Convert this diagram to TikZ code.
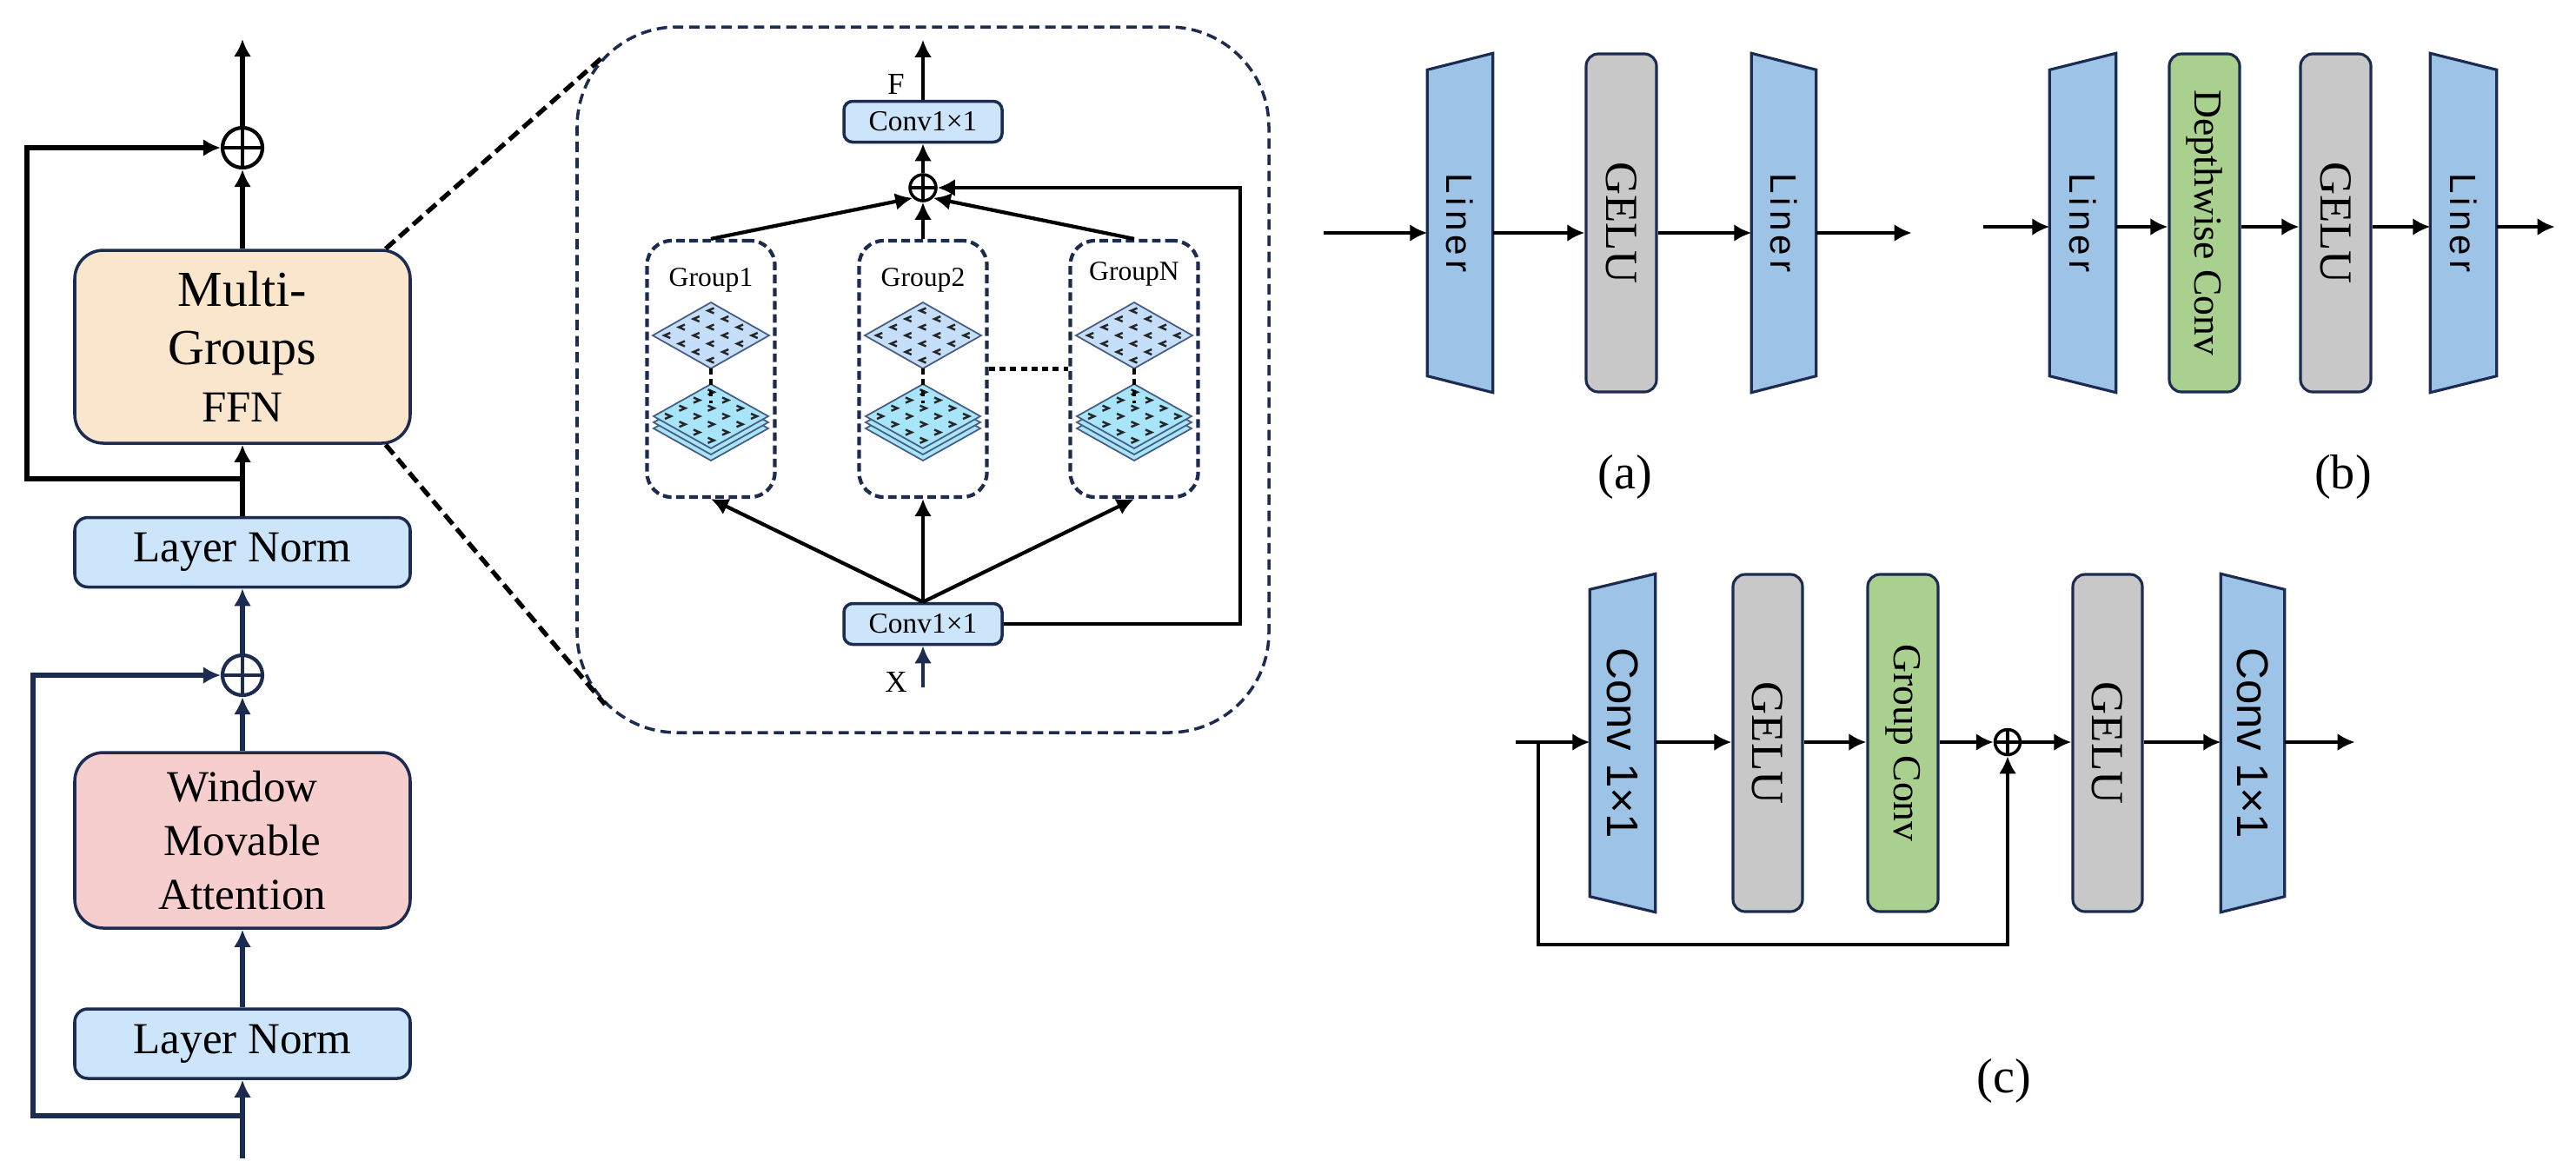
\documentclass[tikz,border=0pt]{standalone}
\usepackage{fontspec}
\usepackage{graphicx}
\setmainfont{Liberation Serif}
\newfontfamily\linerfont[LetterSpace=12]{Liberation Sans}
\newfontfamily\convfont{Liberation Sans}
\usetikzlibrary{arrows.meta,backgrounds,positioning}

\definecolor{navy}{RGB}{28,43,80}
\definecolor{lnblue}{RGB}{204,229,251}
\definecolor{peach}{RGB}{250,230,205}
\definecolor{rose}{RGB}{246,206,205}
\definecolor{linerblue}{RGB}{157,195,230}
\definecolor{gelugray}{RGB}{200,200,200}
\definecolor{convgreen}{RGB}{169,208,142}
\definecolor{maptop}{RGB}{197,222,249}
\definecolor{mapbot}{RGB}{168,228,250}
\definecolor{mapedge}{RGB}{70,92,130}

\begin{document}
\begin{tikzpicture}[>={Latex[length=2mm,width=2mm]},
	flow/.style={->,line width=1.5pt},
	iflow/.style={->,line width=1.2pt},
	pflow/.style={->,line width=1.3pt},
	zoomline/.style={line width=1.5pt,dash pattern=on 4pt off 2pt},
	block/.style={draw=navy,line width=1pt,align=center,inner sep=0pt,minimum width=3.86cm},
	lnbox/.style={block,fill=lnblue,minimum height=0.80cm,rounded corners=0.15cm,font=\fontsize{14.5}{17}\selectfont},
	cbox/.style={draw=navy,line width=1pt,fill=lnblue,rounded corners=0.1cm,minimum width=1.82cm,minimum height=0.47cm,inner sep=0pt,font=\fontsize{9.5}{11}\selectfont},
	grp/.style={draw=navy,line width=1.2pt,dash pattern=on 2.8pt off 1.5pt,rounded corners=0.28cm,minimum width=1.47cm,minimum height=2.95cm},
	gtext/.style={inner sep=0pt,font=\fontsize{9}{10}\selectfont},
	addop/.style={circle,draw=#1,line width=1.2pt,minimum size=0.46cm,inner sep=0pt,
		path picture={\draw[#1,line width=1.2pt] (path picture bounding box.north) -- (path picture bounding box.south)
			(path picture bounding box.west) -- (path picture bounding box.east);}},
	addop/.default=black,
	linerbox/.style={inner sep=0pt,minimum height=3.89cm,font=\linerfont\fontsize{12}{14}\selectfont},
	trap/.style={draw=navy,line width=0.9pt,fill=linerblue},
	gelubox/.style={draw=navy,line width=0.9pt,fill=gelugray,rounded corners=0.14cm,minimum width=0.81cm,minimum height=3.89cm,inner sep=0pt,font=\fontsize{15}{17}\selectfont},
	convbox/.style={gelubox,fill=convgreen,font=\fontsize{13}{15}\selectfont},
	capt/.style={font=\fontsize{16}{18}\selectfont},
	chev/.style={line width=0.7pt,black!85},
	fmap/.pic={
		\foreach \dd in {-0.14,-0.07,0}
			\draw[mapedge,fill=mapbot,line width=0.5pt] (0,{-0.175+\dd}) -- (0.66,{-0.545+\dd}) -- (0,{-0.915+\dd}) -- (-0.66,{-0.545+\dd}) -- cycle;
		\foreach \ia in {-0.75,-0.25,0.25,0.75}
			\foreach \ib in {-0.75,-0.25,0.25,0.75}
				\draw[chev] ({0.33*(\ia+\ib)},{-0.545+0.185*(\ia-\ib)}) ++(-0.035,0.03) -- ++(0.07,-0.03) -- ++(-0.07,-0.03);
		\draw[mapedge,fill=maptop,line width=0.5pt] (0,0.765) -- (0.67,0.385) -- (0,0.005) -- (-0.67,0.385) -- cycle;
		\foreach \ia in {-0.75,-0.25,0.25,0.75}
			\foreach \ib in {-0.75,-0.25,0.25,0.75}
				\draw[chev] ({0.335*(\ia+\ib)},{0.385+0.19*(\ia-\ib)}) ++(0.035,0.03) -- ++(-0.07,-0.03) -- ++(0.07,-0.03);
		\draw[line width=1.3pt,dash pattern=on 2pt off 1.5pt] (0,0.005) -- (0,-0.39);
	}]
	
	\useasboundingbox (0,0) rectangle (29.64,-13.5);
	
	% block column
	\node[lnbox] (ln2) at (2.79,-12.01) {Layer Norm};
	\node[block,fill=rose,minimum height=2.02cm,rounded corners=0.33cm,font=\fontsize{14.5}{17.6}\selectfont] (wma) at (2.79,-9.67) {Window\\Movable\\Attention};
	\node[addop=navy] (add2) at (2.79,-7.77) {};
	\node[lnbox] (ln1) at (2.79,-6.355) {Layer Norm};
	\node[block,fill=peach,minimum height=2.22cm,rounded corners=0.33cm,font=\fontsize{16.5}{19}\selectfont] (ffn) at (2.79,-3.99) {Multi-\\Groups\\{\fontsize{14.5}{19}\selectfont FFN}};
	\node[addop] (add1) at (2.79,-1.70) {};
	\coordinate (xin) at (2.79,-13.33);
	\coordinate (br2) at (2.79,-12.84);
	\coordinate (br1) at (2.79,-5.51);
	\coordinate (yout) at (2.79,-0.45);
	
	\draw[flow,navy] (xin) -- (ln2);
	\draw[flow,navy] (ln2) -- (wma);
	\draw[flow,navy] (wma) -- (add2);
	\draw[flow,navy] (add2) -- (ln1);
	\draw[flow,navy] (br2) -- ++(-2.41,0) |- (add2);
	\draw[flow] (ln1) -- (ffn);
	\draw[flow] (ffn) -- (add1);
	\draw[flow] (add1) -- (yout);
	\draw[flow] (br1) -- ++(-2.48,0) |- (add1);
	
	% zoomed view of the FFN
	\node[draw=navy,line width=1pt,dash pattern=on 3.4pt off 1.9pt,rounded corners=1.15cm,minimum width=7.96cm,minimum height=8.12cm] (inset) at (10.62,-4.37) {};
	\draw[zoomline] ([xshift=-0.3cm]ffn.north east) -- ([shift={(0.34,-0.34)}]inset.north west);
	\draw[zoomline] ([xshift=-0.3cm]ffn.south east) -- ([shift={(0.34,0.34)}]inset.south west);
	
	\node[cbox] (ctop) at (10.62,-1.40) {Conv1×1};
	\node[addop,minimum size=0.30cm,line width=1pt] (add3) at (10.62,-2.16) {};
	\node[cbox] (cbot) at (10.62,-7.18) {Conv1×1};
	\node[grp] (g1) at (8.18,-4.245) {};
	\node[grp] (g2) at (10.62,-4.245) {};
	\node[grp] (gN) at (13.05,-4.245) {};
	\node[gtext] (t1) at (8.18,-3.22) {Group1};
	\node[gtext] (t2) at (10.62,-3.22) {Group2};
	\node[gtext] (tN) at (13.05,-3.15) {GroupN};
	\pic at (g1) {fmap};
	\pic at (g2) {fmap};
	\pic at (gN) {fmap};
	\draw[line width=1.3pt,dash pattern=on 2pt off 1.5pt] (g2.east) -- (gN.west);
	\coordinate (xsrc) at (10.62,-7.91);
	\node[font=\fontsize{10}{12}\selectfont] (lx) at (10.31,-7.85) {X};
	\node[font=\fontsize{10}{12}\selectfont] (lf) at (10.31,-0.97) {F};
	
	\draw[iflow,navy] (xsrc) -- (cbot);
	\draw[iflow] (cbot.north) -- (g1.south);
	\draw[iflow] (cbot.north) -- (g2.south);
	\draw[iflow] (cbot.north) -- (gN.south);
	\draw[iflow] (g1.north) -- (add3.south west);
	\draw[iflow] (g2.north) -- (add3.south);
	\draw[iflow] (gN.north) -- (add3.south east);
	\draw[iflow] (cbot.east) -- ++(2.72,0) |- (add3);
	\draw[iflow] (add3) -- (ctop);
	\draw[iflow] (ctop.north) -- ++(0,0.69);
	
	% (a)
	\node[linerbox,minimum width=0.74cm] (la1) at (16.80,-2.565) {\rotatebox{-90}{Liner}};
	\node[gelubox] (ga) at (18.655,-2.565) {\rotatebox{-90}{GELU}};
	\node[linerbox,minimum width=0.73cm] (la2) at (20.525,-2.565) {\rotatebox{-90}{Liner}};
	\coordinate (ain) at (15.23,-2.68);
	\draw[pflow] (ain) -- (ain -| la1.west);
	\draw[pflow] (ain -| la1.east) -- (ain -| ga.west);
	\draw[pflow] (ain -| ga.east) -- (ain -| la2.west);
	\draw[pflow] (ain -| la2.east) -- ++(1.10,0);
	\node[capt] (capa) at (18.70,-5.49) {(a)};
	
	% (b)
	\node[linerbox,minimum width=0.75cm] (lb1) at (23.965,-2.565) {\rotatebox{-90}{Liner}};
	\node[convbox] (dw) at (25.365,-2.565) {\rotatebox{-90}{Depthwise Conv}};
	\node[gelubox] (gb) at (26.875,-2.565) {\rotatebox{-90}{GELU}};
	\node[linerbox,minimum width=0.75cm] (lb2) at (28.345,-2.565) {\rotatebox{-90}{Liner}};
	\coordinate (bin) at (22.82,-2.61);
	\draw[pflow] (bin) -- (bin -| lb1.west);
	\draw[pflow] (bin -| lb1.east) -- (bin -| dw.west);
	\draw[pflow] (bin -| dw.east) -- (bin -| gb.west);
	\draw[pflow] (bin -| gb.east) -- (bin -| lb2.west);
	\draw[pflow] (bin -| lb2.east) -- ++(0.67,0);
	\node[capt] (capb) at (26.96,-5.49) {(b)};
	
	% (c)
	\node[linerbox,minimum width=0.74cm,minimum height=3.88cm,font=\convfont\fontsize{14.5}{17}\selectfont] (cc1) at (18.67,-8.55) {\rotatebox{-90}{Conv 1×1}};
	\node[gelubox,minimum width=0.80cm,minimum height=3.88cm] (gc1) at (20.34,-8.55) {\rotatebox{-90}{GELU}};
	\node[convbox,minimum height=3.88cm] (gconv) at (21.895,-8.55) {\rotatebox{-90}{Group Conv}};
	\node[addop,minimum size=0.29cm,line width=1pt] (add4) at (23.10,-8.54) {};
	\node[gelubox,minimum width=0.80cm,minimum height=3.88cm] (gc2) at (24.25,-8.55) {\rotatebox{-90}{GELU}};
	\node[linerbox,minimum width=0.72cm,minimum height=3.88cm,font=\convfont\fontsize{14.5}{17}\selectfont] (cc2) at (25.92,-8.55) {\rotatebox{-90}{Conv 1×1}};
	\coordinate (cin) at (17.44,-8.54);
	\draw[pflow] (cin) -- (cin -| cc1.west);
	\draw[pflow] (cin -| cc1.east) -- (cin -| gc1.west);
	\draw[pflow] (cin -| gc1.east) -- (cin -| gconv.west);
	\draw[pflow] (cin -| gconv.east) -- (add4);
	\draw[pflow] (add4) -- (cin -| gc2.west);
	\draw[pflow] (cin -| gc2.east) -- (cin -| cc2.west);
	\draw[pflow] (cin -| cc2.east) -- ++(0.81,0);
	\draw[pflow] ([xshift=0.26cm]cin) -- ++(0,-2.33) -| (add4);
	\node[capt] (capc) at (23.06,-12.44) {(c)};
	
	\begin{scope}[on background layer]
	\draw[trap] ([yshift=-0.19cm]la1.north west) -- (la1.north east) -- (la1.south east) -- ([yshift=0.19cm]la1.south west) -- cycle;
	\draw[trap] (la2.north west) -- ([yshift=-0.19cm]la2.north east) -- ([yshift=0.19cm]la2.south east) -- (la2.south west) -- cycle;
	\draw[trap] ([yshift=-0.19cm]lb1.north west) -- (lb1.north east) -- (lb1.south east) -- ([yshift=0.19cm]lb1.south west) -- cycle;
	\draw[trap] (lb2.north west) -- ([yshift=-0.19cm]lb2.north east) -- ([yshift=0.19cm]lb2.south east) -- (lb2.south west) -- cycle;
	\draw[trap] ([yshift=-0.18cm]cc1.north west) -- (cc1.north east) -- (cc1.south east) -- ([yshift=0.18cm]cc1.south west) -- cycle;
	\draw[trap] (cc2.north west) -- ([yshift=-0.18cm]cc2.north east) -- ([yshift=0.18cm]cc2.south east) -- (cc2.south west) -- cycle;
	\end{scope}
\end{tikzpicture}
\end{document}
